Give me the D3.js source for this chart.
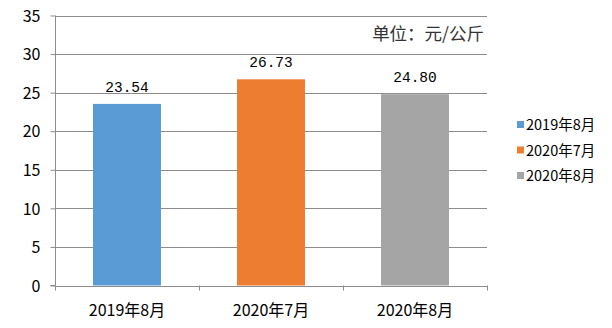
<!DOCTYPE html>
<html>
<head>
<meta charset="utf-8">
<script src="https://cdn.jsdelivr.net/npm/d3@7"></script>
<style>
  html, body { margin: 0; padding: 0; background: #fff; }
  svg { display: block; }
</style>
</head>
<body>
<svg id="chart" width="612" height="328"></svg>
<script>
// Monthly average price, yuan per kilogram
const categories = ["2019年8月", "2020年7月", "2020年8月"];
const values = [23.54, 26.73, 24.80];
const valueLabels = ["23.54", "26.73", "24.80"];
const colors = ["#5B9BD5", "#ED7D31", "#A5A5A5"];
const yTicks = [0, 5, 10, 15, 20, 25, 30, 35];
const unitText = "单位：元/公斤";

const svg = d3.select("#chart");
const plotLeft = 55, plotRight = 487, plotTop = 15.5, plotBottom = 285.5;
const gridColor = "#8c8c8c";
const cjk = "'Noto Sans CJK SC', sans-serif";

const x = d3.scaleBand().domain(categories).range([plotLeft, plotRight]).padding(0);
const y = d3.scaleLinear().domain([0, 35]).range([plotBottom, plotTop]);

// horizontal gridlines
svg.append("g").selectAll("line").data(yTicks.filter(t => t > 0)).join("line")
  .attr("x1", plotLeft).attr("x2", plotRight)
  .attr("y1", d => Math.round(y(d)) + 0.5).attr("y2", d => Math.round(y(d)) + 0.5)
  .attr("stroke", gridColor).attr("stroke-width", 1);

// value axis
const yAxis = svg.append("g").attr("transform", `translate(${plotLeft + 0.5},0)`)
  .call(d3.axisLeft(y).tickValues(yTicks).tickSize(5).tickPadding(10).tickFormat(d3.format("d")));
yAxis.select(".domain").attr("stroke", gridColor).attr("d", `M-5,${plotBottom}H0V${plotTop}`);
yAxis.selectAll(".tick line").attr("stroke", gridColor);
yAxis.selectAll(".tick text").attr("font-family", cjk).attr("font-size", 16).attr("fill", "#000")
  .attr("dy", "0.36em");

// bars
const barW = x.bandwidth() * 0.472;
svg.append("g").selectAll("rect").data(values).join("rect")
  .attr("x", (d, i) => x(categories[i]) + (x.bandwidth() - barW) / 2)
  .attr("width", barW)
  .attr("y", d => y(d))
  .attr("height", d => plotBottom - y(d))
  .attr("fill", (d, i) => colors[i]);

// category axis
svg.append("line").attr("x1", plotLeft).attr("x2", plotRight)
  .attr("y1", Math.round(plotBottom) + 0.5).attr("y2", Math.round(plotBottom) + 0.5)
  .attr("stroke", gridColor);
const bounds = categories.map(c => x(c)).concat([plotRight]);
svg.append("g").selectAll("line").data(bounds).join("line")
  .attr("x1", d => Math.round(d) + 0.5).attr("x2", d => Math.round(d) + 0.5)
  .attr("y1", plotBottom).attr("y2", plotBottom + 5)
  .attr("stroke", gridColor);
svg.append("g").selectAll("text").data(categories).join("text")
  .attr("x", d => x(d) + x.bandwidth() / 2)
  .attr("y", 316)
  .attr("text-anchor", "middle")
  .attr("font-family", cjk).attr("font-size", 16).attr("fill", "#000")
  .text(d => d);

// value labels
svg.append("g").selectAll("text").data(values).join("text")
  .attr("x", (d, i) => x(categories[i]) + x.bandwidth() / 2)
  .attr("y", d => y(d) - 12)
  .attr("text-anchor", "middle")
  .attr("font-family", "'Liberation Mono', monospace").attr("font-size", 14.5).attr("fill", "#000")
  .text((d, i) => valueLabels[i]);

// unit note
svg.append("text").attr("x", 484).attr("y", 39.5)
  .attr("text-anchor", "end")
  .attr("font-family", cjk).attr("font-size", 17.5).attr("fill", "#333")
  .text(unitText);

// legend
const legend = svg.append("g").selectAll("g").data(categories).join("g")
  .attr("transform", (d, i) => `translate(517,${125 + i * 25.5})`);
legend.append("rect").attr("x", 0).attr("y", -4).attr("width", 7).attr("height", 7)
  .attr("fill", (d, i) => colors[i]);
legend.append("text").attr("x", 9).attr("y", 0).attr("dy", "0.36em")
  .attr("font-family", cjk).attr("font-size", 14.5).attr("fill", "#000")
  .text(d => d);
</script>
</body>
</html>
